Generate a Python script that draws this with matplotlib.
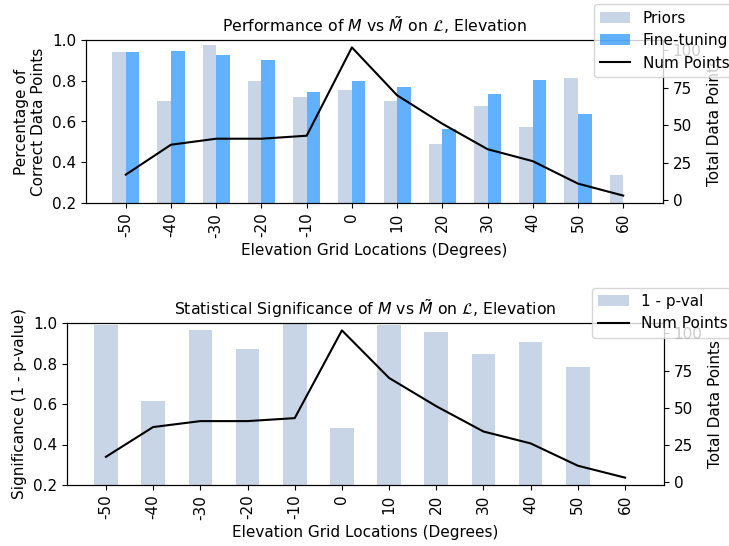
import numpy as np
import matplotlib
matplotlib.use("Agg")
import matplotlib.pyplot as plt

plt.rcParams["font.size"] = 11
plt.rcParams["axes.titlesize"] = 11.3

# Elevation grid locations (degrees)
elevations = [-50, -40, -30, -20, -10, 0, 10, 20, 30, 40, 50, 60]
tick_labels = [str(e) for e in elevations]

# Fraction of correct data points per model
priors = [0.94, 0.70, 0.975, 0.80, 0.72, 0.755, 0.70, 0.49, 0.675, 0.575, 0.815, 0.335]
fine_tuning = [0.94, 0.945, 0.925, 0.90, 0.745, 0.80, 0.77, 0.565, 0.735, 0.805, 0.635, 0.0]

# Significance (1 - p-value) per location
one_minus_p = [0.988, 0.615, 0.963, 0.873, 0.993, 0.48, 0.989, 0.958, 0.845, 0.904, 0.784, 0.0]

# Number of data points per location
num_points = [17, 37, 41, 41, 43, 102, 70, 51, 34, 26, 11, 3]

prior_color = (176/255, 196/255, 222/255, 0.7)
ft_color = (30/255, 144/255, 255/255, 0.7)

fig = plt.figure(figsize=(7.29, 5.46), dpi=100)
x = np.arange(len(elevations))

# ---- Performance panel ----
ax1 = fig.add_axes([86/729, 1 - 203/546, (663 - 86)/729, (203 - 40)/546])
w = 0.3
b1 = ax1.bar(x - w/2, priors, w, color=prior_color, label="Priors")
b2 = ax1.bar(x + w/2, fine_tuning, w, color=ft_color, label="Fine-tuning")
ax1.set_ylim(0.2, 1.0)
ax1.set_xticks(x)
ax1.set_xticklabels(tick_labels, rotation=90)
ax1.set_xlabel("Elevation Grid Locations (Degrees)")
ax1.set_ylabel("Percentage of\nCorrect Data Points")
ax1.set_title(r"Performance of $M$ vs $\tilde{M}$ on $\mathcal{L}$, Elevation")
ax1t = ax1.twinx()
l1, = ax1t.plot(x, num_points, color="black", label="Num Points")
ax1t.set_ylabel("Total Data Points")
ax1t.set_yticks([0, 25, 50, 75, 100])
ax1t.legend([b1, b2, l1], ["Priors", "Fine-tuning", "Num Points"],
            loc="upper right", bbox_to_anchor=(1.139, 1.265))

# ---- Significance panel ----
ax2 = fig.add_axes([67/729, 1 - 485/546, (664 - 67)/729, (485 - 323)/546])
b3 = ax2.bar(x, one_minus_p, 0.5, color=prior_color, label="1 - p-val")
ax2.set_ylim(0.2, 1.0)
ax2.set_xticks(x)
ax2.set_xticklabels(tick_labels, rotation=90)
ax2.set_xlabel("Elevation Grid Locations (Degrees)")
ax2.set_ylabel("Significance (1 - p-value)")
ax2.set_title(r"Statistical Significance of $M$ vs $\tilde{M}$ on $\mathcal{L}$, Elevation")
ax2t = ax2.twinx()
l2, = ax2t.plot(x, num_points, color="black", label="Num Points")
ax2t.set_ylabel("Total Data Points")
ax2t.set_yticks([0, 25, 50, 75, 100])
ax2t.legend([b3, l2], ["1 - p-val", "Num Points"],
            loc="upper right", bbox_to_anchor=(1.13, 1.265))

fig.savefig("out.png", dpi=100)
